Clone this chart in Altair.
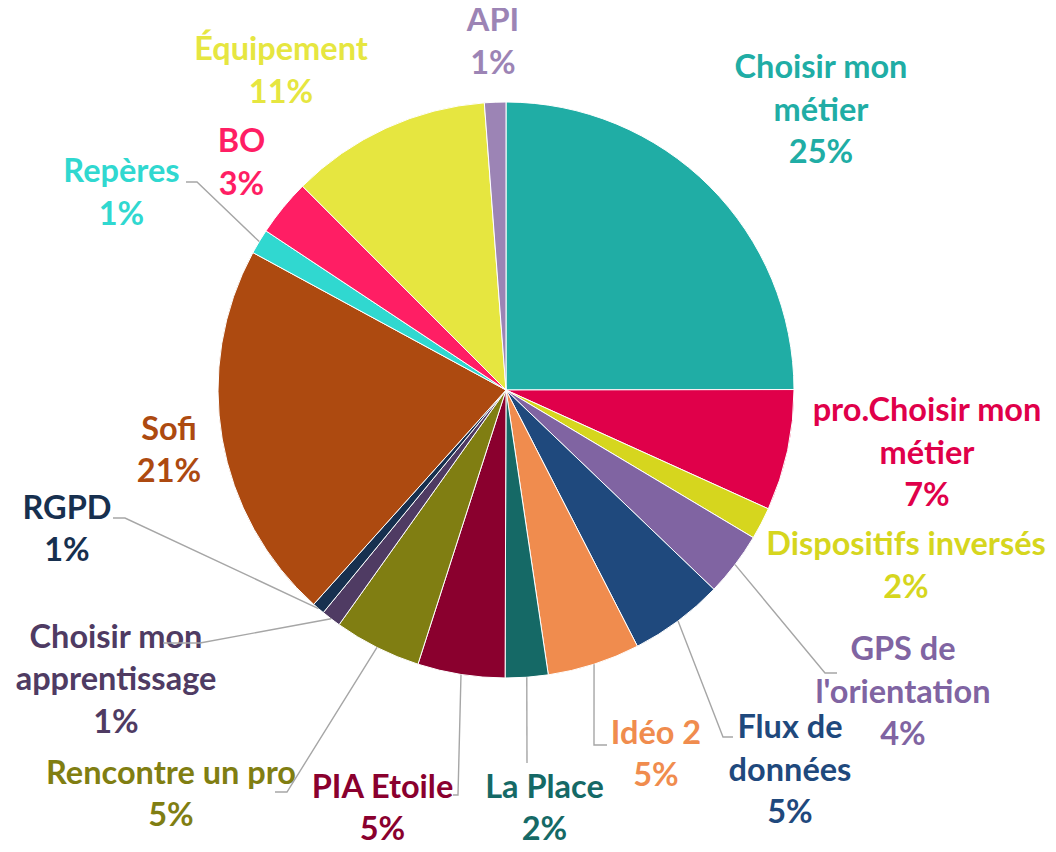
import altair as alt
import numpy as np
import pandas as pd

# ---- data ----
names = [
    "Choisir mon\nmétier", "pro.Choisir mon\nmétier", "Dispositifs inversés",
    "GPS de\nl'orientation", "Flux de\ndonnées", "Idéo 2", "La Place",
    "PIA Etoile", "Rencontre un pro", "Choisir mon\napprentissage", "RGPD",
    "Sofi", "Repères", "BO", "Équipement", "API",
]
values = [25.0, 6.8, 1.8, 3.6, 5.3, 5.2, 2.4, 4.9, 4.9, 1.1, 0.7, 21.3, 1.4, 3.2, 11.3, 1.2]
colors = [
    "#20ADA5", "#E0004A", "#D6D61E", "#8064A2", "#1F497D", "#F08C4E", "#156966",
    "#8A002E", "#807E12", "#4F3B63", "#17304F", "#AD4A10", "#30D8D0", "#FF1E64",
    "#E6E640", "#9C84B5",
]

# ---- layout (pixel offsets of label-block centres / leader elbows from the pie centre) ----
label_dx = [315, 421, 400, 397, 284, 150, 38.5, -123.5, -335, -390, -439, -337, -384.5, -264.5, -225, -13]
label_dy = [-279.5, 63.5, 176.5, 302.5, 380.5, 365, 419, 419, 405, 290, 140, 61, -196.5, -226.5, -318.5, -347.5]
# leader: slice index -> (elbow dx, dy, end dx, dy)
leaders = {
    3: (319, 283, 331, 283),
    4: (217, 347, 227, 347),
    5: (88, 355, 101, 355),
    6: (21, 373, 21, 373),
    7: (-48, 405, -53, 405),
    8: (-219, 402, -231, 402),
    9: (-306, 253, -343, 253),
    10: (-381, 128, -393, 128),
    12: (-309, -208, -320, -208),
}
LH = 42.5

W, H = 1040, 836
CX, CY, R = 498, 382, 288
xdom = [-CX / R, (W - CX) / R]
ydom = [-(H - CY) / R, CY / R]

vals = np.array(values)
total = vals.sum()
start = np.cumsum(vals) - vals
mid = (start + vals / 2) / total * 2 * np.pi

df = pd.DataFrame({"idx": range(len(names)), "name": names, "value": values})
df["pct"] = [f"{int(round(v / total * 100))}%" for v in vals]
df["label"] = df["name"] + "\n" + df["pct"]
nlines = df["label"].str.count("\n") + 1
df["lx"] = np.array(label_dx) / R
df["ly"] = -(np.array(label_dy) - (nlines - 1) * LH / 2) / R

rows = []
for i, (ex, ey, fx, fy) in leaders.items():
    rows.append({"leader": i, "k": 0, "x": np.sin(mid[i]), "y": np.cos(mid[i])})
    rows.append({"leader": i, "k": 1, "x": ex / R, "y": -ey / R})
    rows.append({"leader": i, "k": 2, "x": fx / R, "y": -fy / R})
ldf = pd.DataFrame(rows)

xs = alt.Scale(domain=xdom, nice=False, zero=False)
ys = alt.Scale(domain=ydom, nice=False, zero=False)
cs = alt.Scale(domain=names, range=colors)

pie = alt.Chart(df).mark_arc(outerRadius=R, stroke="white", strokeWidth=1).encode(
    theta=alt.Theta("value:Q", stack=True),
    color=alt.Color("name:N", scale=cs, legend=None),
    order=alt.Order("idx:Q", sort="ascending"),
    x=alt.value(CX),
    y=alt.value(CY),
)

labels = alt.Chart(df).mark_text(
    font="Lato", fontWeight="bold", fontSize=32.5, lineBreak="\n", lineHeight=LH,
    align="center", baseline="middle",
).encode(
    x=alt.X("lx:Q", scale=xs, axis=None),
    y=alt.Y("ly:Q", scale=ys, axis=None),
    text="label:N",
    color=alt.Color("name:N", scale=cs, legend=None),
)

lines = alt.Chart(ldf).mark_line(color="#A6A6A6", strokeWidth=1.4).encode(
    x=alt.X("x:Q", scale=xs, axis=None),
    y=alt.Y("y:Q", scale=ys, axis=None),
    detail="leader:N",
    order="k:Q",
)

chart = alt.layer(pie, labels, lines).properties(
    width=W, height=H, autosize=alt.AutoSizeParams(type="none"), padding=0
).configure_view(stroke=None)

chart.save("out.html", embed_options={"renderer": "svg", "actions": False})
